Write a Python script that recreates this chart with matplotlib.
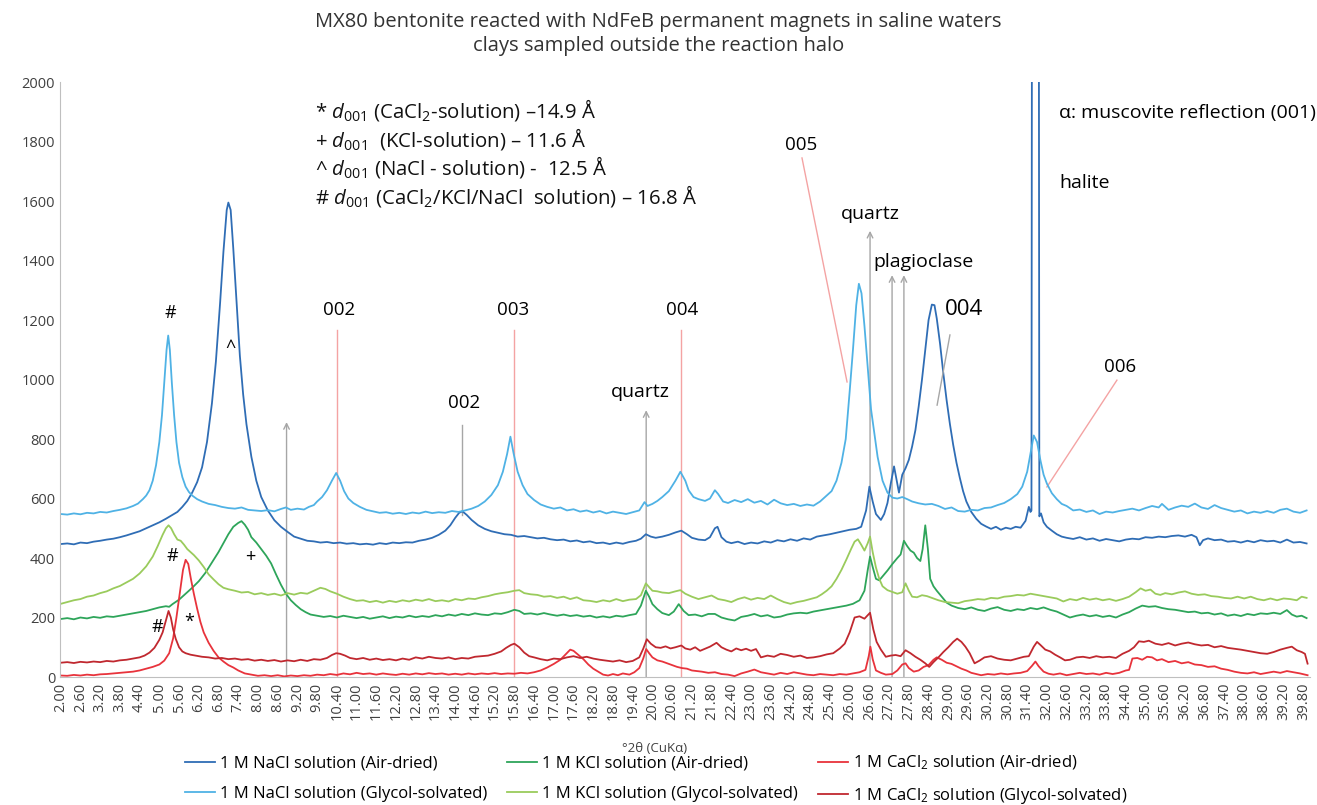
import matplotlib
matplotlib.use("Agg")
import matplotlib.pyplot as plt
import numpy as np

plt.rcParams['font.family'] = ['Open Sans', 'DejaVu Sans']
plt.rcParams['mathtext.fontset'] = 'custom'
plt.rcParams['mathtext.rm'] = 'Open Sans'
plt.rcParams['mathtext.it'] = 'Open Sans:italic'

# (2theta, counts), one list per sample
nacl_gly = [(2.0,548),(2.2,546),(2.4,550),(2.6,547),(2.8,552),(3.0,550),(3.2,555),(3.4,553),(3.6,558),(3.8,562),
    (4.0,567),(4.2,575),(4.35,583),(4.5,598),(4.6,610),(4.7,628),(4.8,660),(4.9,712),(5.0,790),(5.08,880),
    (5.15,990),(5.22,1100),(5.27,1148),(5.32,1100),(5.38,990),(5.45,880),(5.52,790),(5.6,720),(5.7,672),(5.8,640),
    (5.9,622),(6.0,610),(6.15,598),(6.3,590),(6.5,582),(6.7,578),(6.9,572),(7.1,568),(7.3,566),(7.5,570),
    (7.7,562),(7.9,560),(8.1,558),(8.3,561),(8.5,557),(8.7,565),(8.85,570),(9.0,562),(9.2,566),(9.4,563),
    (9.55,572),(9.7,578),(9.8,590),(9.95,605),(10.1,628),(10.25,660),(10.38,686),(10.5,660),(10.62,625),(10.75,600),
    (10.9,585),(11.1,572),(11.3,562),(11.5,557),(11.7,552),(11.9,554),(12.1,549),(12.3,552),(12.5,548),(12.7,553),
    (12.9,550),(13.1,556),(13.3,551),(13.5,554),(13.7,552),(13.9,558),(14.1,555),(14.3,560),(14.5,566),(14.7,575),
    (14.9,590),(15.1,612),(15.3,645),(15.45,690),(15.58,750),(15.68,808),(15.78,750),(15.9,690),(16.05,645),(16.2,615),
    (16.4,595),(16.6,580),(16.8,572),(17.0,566),(17.2,570),(17.4,560),(17.6,564),(17.8,556),(18.0,560),(18.2,553),
    (18.4,558),(18.6,550),(18.8,556),(19.0,552),(19.2,548),(19.4,554),(19.6,560),(19.76,588),(19.85,575),(20.0,582),
    (20.15,592),(20.3,605),(20.5,625),(20.7,660),(20.85,690),(21.0,660),(21.1,628),(21.25,605),(21.4,598),(21.6,592),
    (21.75,600),(21.9,628),(22.0,615),(22.15,590),(22.3,585),(22.5,595),(22.7,588),(22.9,598),(23.1,586),(23.3,592),
    (23.5,580),(23.7,596),(23.9,584),(24.1,578),(24.3,582),(24.5,575),(24.7,580),(24.9,576),(25.1,590),(25.3,610),
    (25.45,625),(25.6,660),(25.75,720),(25.88,800),(26.0,960),(26.1,1100),(26.2,1250),(26.28,1322),(26.36,1290),(26.45,1180),
    (26.55,1040),(26.65,900),(26.75,820),(26.85,740),(27.0,660),(27.15,620),(27.3,603),(27.45,600),(27.6,605),(27.75,598),
    (27.9,590),(28.1,584),(28.3,580),(28.5,582),(28.7,575),(28.9,565),(29.1,570),(29.3,558),(29.5,556),(29.7,562),
    (29.9,560),(30.1,568),(30.3,570),(30.5,578),(30.7,585),(30.9,598),(31.1,615),(31.25,640),(31.4,690),(31.5,750),
    (31.6,812),(31.7,790),(31.8,730),(31.9,680),(32.0,650),(32.15,618),(32.3,598),(32.45,582),(32.6,575),(32.8,560),
    (33.0,563),(33.2,555),(33.4,560),(33.6,548),(33.8,556),(34.0,553),(34.2,558),(34.4,562),(34.6,566),(34.8,560),
    (35.0,568),(35.2,575),(35.4,570),(35.5,582),(35.7,562),(35.9,570),(36.1,576),(36.3,572),(36.5,583),(36.7,570),
    (36.9,565),(37.1,578),(37.3,568),(37.5,562),(37.7,556),(37.9,560),(38.1,550),(38.3,556),(38.5,552),(38.7,558),
    (38.9,552),(39.1,562),(39.3,566),(39.5,556),(39.7,552),(39.9,560)]

nacl_air = [(2.0,447),(2.2,449),(2.4,446),(2.6,452),(2.8,450),(3.0,455),(3.2,458),(3.4,462),(3.6,465),(3.8,470),
    (4.0,476),(4.2,483),(4.4,490),(4.6,500),(4.8,510),(5.0,520),(5.2,532),(5.4,545),(5.55,555),(5.7,572),
    (5.85,592),(6.0,620),(6.15,655),(6.3,705),(6.45,790),(6.6,920),(6.72,1060),(6.85,1260),(6.95,1430),(7.05,1570),
    (7.1,1595),(7.17,1570),(7.25,1440),(7.35,1260),(7.45,1080),(7.55,950),(7.65,850),(7.8,740),(7.95,660),(8.1,605),
    (8.3,560),(8.5,527),(8.7,505),(8.9,488),(9.1,472),(9.3,465),(9.5,458),(9.7,456),(9.9,452),(10.1,454),
    (10.3,450),(10.5,452),(10.7,448),(10.9,450),(11.1,446),(11.3,448),(11.5,445),(11.7,450),(11.9,447),(12.1,452),
    (12.3,450),(12.5,453),(12.7,452),(12.9,458),(13.1,462),(13.3,468),(13.5,478),(13.7,492),(13.85,510),(14.0,535),
    (14.12,552),(14.22,557),(14.35,545),(14.5,528),(14.7,510),(14.9,498),(15.1,490),(15.3,485),(15.5,480),(15.7,478),
    (15.9,472),(16.1,474),(16.3,470),(16.5,466),(16.7,468),(16.9,463),(17.1,460),(17.3,462),(17.5,456),(17.7,459),
    (17.9,453),(18.1,456),(18.3,450),(18.5,452),(18.7,447),(18.9,452),(19.1,448),(19.3,454),(19.5,458),(19.65,465),
    (19.8,480),(19.95,472),(20.1,468),(20.3,472),(20.5,478),(20.7,486),(20.88,492),(21.05,480),(21.2,468),(21.4,462),
    (21.6,460),(21.75,470),(21.9,500),(21.98,505),(22.1,470),(22.25,455),(22.4,450),(22.6,455),(22.8,447),(23.0,452),
    (23.2,449),(23.4,456),(23.6,452),(23.8,460),(24.0,456),(24.2,463),(24.4,458),(24.6,466),(24.8,462),(25.0,472),
    (25.2,476),(25.4,480),(25.6,485),(25.8,490),(26.0,495),(26.2,498),(26.35,505),(26.5,560),(26.6,640),(26.7,590),
    (26.8,548),(26.95,528),(27.05,548),(27.15,585),(27.25,650),(27.35,708),(27.43,660),(27.5,620),(27.6,680),(27.7,702),
    (27.8,730),(27.9,775),(28.0,830),(28.1,910),(28.2,1000),(28.3,1100),(28.4,1200),(28.5,1252),(28.58,1250),(28.65,1205),
    (28.75,1120),(28.85,1020),(28.95,930),(29.05,850),(29.15,780),(29.25,720),(29.35,670),(29.45,625),(29.55,590),(29.7,555),
    (29.85,532),(30.0,515),(30.15,506),(30.3,498),(30.45,505),(30.6,495),(30.75,502),(30.9,498),(31.05,505),(31.2,502),
    (31.35,525),(31.45,572),(31.5,555),(31.53,560),(31.56,4000),(31.74,4000),(31.77,540),(31.82,550),(31.9,520),(32.0,505),
    (32.15,492),(32.3,480),(32.45,472),(32.6,468),(32.8,464),(33.0,470),(33.2,462),(33.4,466),(33.6,458),(33.8,464),
    (34.0,460),(34.2,456),(34.4,462),(34.6,465),(34.8,463),(35.0,470),(35.2,468),(35.4,472),(35.6,470),(35.8,474),
    (36.0,476),(36.2,472),(36.4,478),(36.55,470),(36.65,443),(36.75,460),(36.9,466),(37.1,460),(37.3,462),(37.5,455),
    (37.7,457),(37.9,452),(38.1,458),(38.3,453),(38.5,460),(38.7,456),(38.9,458),(39.1,452),(39.3,462),(39.5,452),
    (39.7,454),(39.9,449)]

kcl_gly = [(2.0,246),(2.2,252),(2.4,258),(2.6,262),(2.8,270),(3.0,274),(3.2,282),(3.4,288),(3.6,298),(3.8,306),
    (4.0,318),(4.2,330),(4.4,348),(4.6,372),(4.8,405),(4.95,440),(5.1,478),(5.2,500),(5.28,510),(5.36,500),
    (5.45,480),(5.55,462),(5.65,458),(5.75,445),(5.85,430),(5.95,420),(6.05,410),(6.2,392),(6.35,370),(6.5,345),
    (6.65,328),(6.8,312),(6.95,300),(7.1,295),(7.3,290),(7.5,284),(7.7,286),(7.9,278),(8.1,282),(8.3,276),
    (8.5,280),(8.7,274),(8.9,282),(9.1,277),(9.3,283),(9.5,280),(9.7,290),(9.9,300),(10.05,296),(10.2,288),
    (10.4,280),(10.6,270),(10.8,262),(11.0,256),(11.2,258),(11.4,252),(11.6,256),(11.8,250),(12.0,256),(12.2,252),
    (12.4,258),(12.6,254),(12.8,260),(13.0,256),(13.2,262),(13.4,255),(13.6,258),(13.8,254),(14.0,262),(14.2,258),
    (14.4,264),(14.6,262),(14.8,268),(15.0,272),(15.2,278),(15.4,282),(15.6,285),(15.8,290),(15.95,292),(16.1,282),
    (16.3,278),(16.5,276),(16.7,270),(16.9,272),(17.1,266),(17.3,270),(17.5,262),(17.7,268),(17.9,258),(18.1,256),
    (18.3,252),(18.5,258),(18.7,254),(18.9,262),(19.1,255),(19.3,260),(19.5,262),(19.65,275),(19.8,315),(19.9,302),
    (20.0,290),(20.15,288),(20.3,284),(20.5,282),(20.7,288),(20.85,292),(21.0,280),(21.2,270),(21.4,262),(21.6,268),
    (21.8,274),(22.0,262),(22.2,258),(22.4,252),(22.6,262),(22.8,268),(23.0,260),(23.2,266),(23.4,262),(23.6,274),
    (23.8,262),(24.0,252),(24.2,246),(24.4,252),(24.6,256),(24.8,262),(25.0,268),(25.15,278),(25.3,290),(25.45,305),
    (25.6,330),(25.75,360),(25.9,395),(26.05,432),(26.15,455),(26.25,463),(26.35,445),(26.45,425),(26.55,450),(26.62,472),
    (26.7,420),(26.8,368),(26.9,330),(27.0,305),(27.15,292),(27.3,286),(27.45,280),(27.6,285),(27.7,315),(27.8,290),
    (27.9,270),(28.05,268),(28.2,275),(28.35,272),(28.5,266),(28.7,258),(28.9,252),(29.1,250),(29.3,248),(29.5,255),
    (29.7,258),(29.9,262),(30.1,260),(30.3,266),(30.5,264),(30.7,270),(30.9,272),(31.1,276),(31.3,274),(31.5,280),
    (31.7,276),(31.9,272),(32.1,268),(32.3,264),(32.5,254),(32.7,262),(32.9,258),(33.1,266),(33.3,260),(33.5,264),
    (33.7,258),(33.9,262),(34.1,256),(34.3,262),(34.5,270),(34.7,285),(34.85,298),(35.0,290),(35.15,294),(35.3,280),
    (35.45,276),(35.6,282),(35.8,278),(36.0,284),(36.2,288),(36.4,280),(36.6,276),(36.8,278),(37.0,272),(37.2,270),
    (37.4,266),(37.6,264),(37.8,270),(38.0,264),(38.2,270),(38.4,262),(38.6,258),(38.8,264),(39.0,258),(39.2,264),
    (39.4,262),(39.6,258),(39.75,270),(39.9,266)]

kcl_air = [(2.0,195),(2.2,198),(2.4,194),(2.6,200),(2.8,197),(3.0,202),(3.2,199),(3.4,204),(3.6,202),(3.8,206),
    (4.0,210),(4.2,214),(4.4,218),(4.6,222),(4.8,228),(5.0,234),(5.2,238),(5.3,236),(5.4,245),(5.6,260),
    (5.8,280),(6.0,300),(6.2,322),(6.4,350),(6.6,385),(6.8,420),(6.95,450),(7.1,480),(7.25,505),(7.4,518),
    (7.5,524),(7.6,512),(7.7,495),(7.8,470),(7.95,452),(8.1,430),(8.25,408),(8.4,382),(8.55,345),(8.7,310),
    (8.85,280),(9.0,258),(9.15,242),(9.3,228),(9.45,218),(9.6,210),(9.8,206),(10.0,202),(10.2,205),(10.4,200),
    (10.6,206),(10.8,202),(11.0,198),(11.2,202),(11.4,196),(11.6,200),(11.8,204),(12.0,198),(12.2,203),(12.4,200),
    (12.6,206),(12.8,201),(13.0,205),(13.2,202),(13.4,208),(13.6,204),(13.8,210),(14.0,206),(14.2,212),(14.4,208),
    (14.6,214),(14.8,210),(15.0,208),(15.2,214),(15.4,212),(15.6,218),(15.8,226),(15.95,222),(16.1,212),(16.3,214),
    (16.5,210),(16.7,215),(16.9,210),(17.1,206),(17.3,210),(17.5,205),(17.7,208),(17.9,203),(18.1,206),(18.3,200),
    (18.5,204),(18.7,200),(18.9,206),(19.1,203),(19.3,208),(19.5,212),(19.65,240),(19.8,290),(19.9,270),(20.0,245),
    (20.15,228),(20.3,215),(20.5,208),(20.65,220),(20.8,245),(20.95,222),(21.1,208),(21.3,210),(21.5,204),(21.7,212),
    (21.9,212),(22.1,200),(22.3,194),(22.5,190),(22.7,202),(22.9,206),(23.1,212),(23.3,204),(23.5,208),(23.7,200),
    (23.9,203),(24.1,210),(24.3,214),(24.5,216),(24.7,214),(24.9,220),(25.1,224),(25.3,228),(25.5,232),(25.7,236),
    (25.9,240),(26.1,246),(26.3,258),(26.45,290),(26.55,360),(26.62,405),(26.7,370),(26.8,330),(26.9,325),(27.0,338),
    (27.15,358),(27.3,380),(27.45,400),(27.55,412),(27.65,458),(27.75,440),(27.85,425),(27.95,418),(28.05,400),(28.15,390),
    (28.22,430),(28.3,510),(28.38,430),(28.45,330),(28.55,305),(28.65,290),(28.8,270),(28.95,250),(29.1,240),(29.3,232),
    (29.5,228),(29.7,234),(29.9,226),(30.1,222),(30.3,230),(30.5,235),(30.7,226),(30.9,222),(31.1,228),(31.3,225),
    (31.5,232),(31.7,228),(31.9,234),(32.1,226),(32.3,220),(32.5,210),(32.7,200),(32.9,206),(33.1,210),(33.3,204),
    (33.5,208),(33.7,202),(33.9,206),(34.1,200),(34.3,210),(34.5,218),(34.7,230),(34.9,240),(35.1,236),(35.3,238),
    (35.5,232),(35.7,228),(35.9,226),(36.1,222),(36.3,218),(36.5,220),(36.7,214),(36.9,216),(37.1,210),(37.3,214),
    (37.5,206),(37.7,210),(37.9,205),(38.1,212),(38.3,208),(38.5,214),(38.7,212),(38.9,216),(39.1,212),(39.3,225),
    (39.45,210),(39.6,203),(39.75,206),(39.9,198)]

cacl_gly = [(2.0,48),(2.2,50),(2.4,47),(2.6,51),(2.8,49),(3.0,52),(3.2,50),(3.4,54),(3.6,52),(3.8,56),
    (4.0,58),(4.2,62),(4.4,66),(4.55,72),(4.7,82),(4.85,98),(5.0,125),(5.1,150),(5.2,190),(5.28,222),
    (5.35,200),(5.42,160),(5.5,128),(5.6,100),(5.7,86),(5.8,80),(5.95,75),(6.1,72),(6.3,68),(6.5,66),
    (6.7,62),(6.9,64),(7.1,60),(7.3,62),(7.5,58),(7.7,60),(7.9,55),(8.1,58),(8.3,54),(8.5,57),
    (8.7,52),(8.9,56),(9.1,53),(9.3,58),(9.5,54),(9.7,60),(9.9,58),(10.1,64),(10.25,74),(10.38,80),
    (10.5,78),(10.65,72),(10.8,64),(11.0,60),(11.2,64),(11.4,58),(11.6,62),(11.8,57),(12.0,60),(12.2,56),
    (12.4,62),(12.6,58),(12.8,66),(13.0,62),(13.2,68),(13.4,64),(13.6,62),(13.8,66),(14.0,60),(14.2,64),
    (14.4,62),(14.6,68),(14.8,70),(15.0,72),(15.2,78),(15.4,86),(15.55,98),(15.7,108),(15.8,112),(15.95,100),
    (16.1,82),(16.25,70),(16.4,66),(16.6,60),(16.8,56),(17.0,62),(17.2,60),(17.4,66),(17.6,70),(17.8,64),
    (18.0,68),(18.2,62),(18.4,58),(18.6,55),(18.8,52),(19.0,56),(19.2,50),(19.4,54),(19.6,66),(19.72,95),
    (19.83,127),(19.95,112),(20.1,100),(20.25,98),(20.4,103),(20.55,96),(20.7,100),(20.88,106),(21.0,96),(21.15,92),
    (21.3,100),(21.45,88),(21.6,95),(21.75,102),(21.95,115),(22.1,100),(22.25,92),(22.4,86),(22.55,96),(22.7,90),
    (22.85,95),(23.0,88),(23.15,94),(23.3,66),(23.5,72),(23.7,68),(23.9,78),(24.1,74),(24.3,68),(24.5,72),
    (24.7,64),(24.9,66),(25.1,70),(25.3,76),(25.5,80),(25.7,96),(25.85,112),(26.0,150),(26.15,200),(26.3,204),
    (26.45,196),(26.62,216),(26.72,160),(26.82,118),(26.95,92),(27.1,68),(27.25,72),(27.4,74),(27.55,70),(27.7,90),
    (27.85,80),(28.0,68),(28.15,58),(28.3,46),(28.42,34),(28.55,50),(28.7,66),(28.85,84),(29.0,100),(29.15,118),
    (29.27,129),(29.4,118),(29.52,102),(29.65,80),(29.8,46),(29.95,55),(30.1,66),(30.3,70),(30.5,62),(30.7,58),
    (30.9,56),(31.1,62),(31.3,68),(31.45,70),(31.6,102),(31.7,118),(31.8,108),(31.95,92),(32.1,86),(32.25,75),
    (32.4,66),(32.55,56),(32.7,58),(32.9,66),(33.1,68),(33.3,64),(33.5,70),(33.7,66),(33.9,68),(34.1,64),
    (34.3,78),(34.5,88),(34.65,100),(34.8,120),(34.95,118),(35.1,122),(35.3,112),(35.5,108),(35.7,114),(35.9,106),
    (36.1,112),(36.3,116),(36.5,110),(36.7,106),(36.9,108),(37.1,100),(37.3,104),(37.5,98),(37.7,95),(37.9,92),
    (38.1,88),(38.3,84),(38.5,80),(38.7,78),(38.9,84),(39.1,92),(39.3,98),(39.45,102),(39.6,90),(39.75,84),
    (39.85,78),(39.93,45)]

cacl_air = [(2.0,5),(2.2,4),(2.4,7),(2.6,5),(2.8,8),(3.0,6),(3.2,9),(3.4,10),(3.6,12),(3.8,14),
    (4.0,16),(4.2,18),(4.4,22),(4.6,28),(4.8,34),(5.0,42),(5.15,55),(5.3,80),(5.42,130),(5.52,200),
    (5.62,280),(5.72,360),(5.8,394),(5.88,380),(5.96,330),(6.05,280),(6.15,230),(6.25,185),(6.35,150),(6.5,115),
    (6.65,88),(6.8,66),(6.95,52),(7.1,40),(7.25,32),(7.4,22),(7.6,12),(7.8,8),(8.0,4),(8.2,6),
    (8.4,3),(8.6,6),(8.8,2),(9.0,5),(9.2,3),(9.4,6),(9.6,4),(9.8,8),(10.0,6),(10.2,10),
    (10.4,7),(10.6,12),(10.8,9),(11.0,14),(11.2,10),(11.4,12),(11.6,8),(11.8,12),(12.0,9),(12.2,7),
    (12.4,11),(12.6,8),(12.8,12),(13.0,9),(13.2,13),(13.4,10),(13.6,12),(13.8,8),(14.0,11),(14.2,8),
    (14.4,12),(14.6,9),(14.8,12),(15.0,10),(15.2,13),(15.4,10),(15.6,12),(15.8,11),(16.0,14),(16.2,12),
    (16.4,16),(16.6,22),(16.8,32),(17.0,44),(17.2,58),(17.35,75),(17.5,92),(17.6,88),(17.75,74),(17.9,60),
    (18.05,42),(18.2,28),(18.35,18),(18.5,8),(18.65,5),(18.8,10),(18.95,6),(19.1,12),(19.3,8),(19.45,16),
    (19.6,30),(19.72,62),(19.81,94),(19.9,80),(20.0,66),(20.15,56),(20.3,52),(20.45,46),(20.6,40),(20.75,34),
    (20.9,30),(21.05,28),(21.2,22),(21.35,20),(21.5,18),(21.7,14),(21.9,16),(22.1,10),(22.3,8),(22.5,3),
    (22.7,12),(22.9,18),(23.1,25),(23.3,16),(23.5,12),(23.7,8),(23.9,14),(24.1,10),(24.3,16),(24.5,12),
    (24.7,8),(24.9,6),(25.1,10),(25.3,8),(25.5,6),(25.7,10),(25.9,8),(26.1,12),(26.3,16),(26.48,24),
    (26.58,70),(26.63,102),(26.7,60),(26.8,22),(26.95,14),(27.1,8),(27.3,10),(27.45,22),(27.6,42),(27.7,46),
    (27.8,30),(27.95,18),(28.1,22),(28.25,34),(28.4,40),(28.55,58),(28.65,66),(28.8,58),(28.95,48),(29.1,44),
    (29.25,36),(29.4,28),(29.55,22),(29.7,14),(29.85,10),(30.0,6),(30.2,10),(30.4,8),(30.6,12),(30.8,9),
    (31.0,12),(31.2,14),(31.4,20),(31.55,38),(31.65,52),(31.75,36),(31.9,18),(32.05,11),(32.2,8),(32.4,12),
    (32.6,6),(32.8,10),(33.0,14),(33.2,10),(33.4,12),(33.6,8),(33.8,14),(34.0,10),(34.2,14),(34.4,22),
    (34.5,24),(34.6,62),(34.75,64),(34.9,58),(35.05,68),(35.2,66),(35.35,56),(35.5,60),(35.7,50),(35.9,54),
    (36.1,46),(36.3,50),(36.5,42),(36.7,40),(36.9,34),(37.1,36),(37.3,28),(37.5,24),(37.7,18),(37.9,14),
    (38.1,12),(38.3,16),(38.5,10),(38.7,14),(38.9,18),(39.1,14),(39.3,20),(39.5,16),(39.7,12),(39.93,6)]

x_ticks = np.round(np.arange(2.0, 39.81, 0.6), 2)

# legend order chosen so that ncol=3 fills row 1 = air-dried, row 2 = glycol
series = [
    (nacl_air, '#2F6DB5', '1 M NaCl solution (Air-dried)'),
    (nacl_gly, '#4FB2E5', '1 M NaCl solution (Glycol-solvated)'),
    (kcl_air, '#2EA55A', '1 M KCl solution (Air-dried)'),
    (kcl_gly, '#9ACB5C', '1 M KCl solution (Glycol-solvated)'),
    (cacl_air, '#E8333C', '1 M CaCl$_2$ solution (Air-dried)'),
    (cacl_gly, '#C0282F', '1 M CaCl$_2$ solution (Glycol-solvated)'),
]

fig = plt.figure(figsize=(13.17, 8.05), dpi=100)
ax = fig.add_axes([0.0456, 0.159, 0.949, 0.739])

grey = '#A6A6A6'
pink = '#F4A3A3'

# marker lines behind the data
for xv in [10.4, 15.8, 20.88]:
    ax.plot([xv, xv], [0, 1166], color=pink, lw=1, zorder=1)
ax.plot([14.22, 14.22], [545, 847], color=grey, lw=1, zorder=1)
for xv, ytop in [(8.87, 857), (19.81, 897), (26.62, 1500), (27.29, 1351), (27.65, 1351)]:
    ax.annotate('', xy=(xv, ytop), xytext=(xv, 0),
                arrowprops=dict(arrowstyle='->', color=grey, lw=1, shrinkA=0, shrinkB=0), zorder=1)
ax.plot([24.55, 25.92], [1745, 992], color=pink, lw=1, zorder=1)
ax.plot([34.13, 32.0], [998, 639], color=pink, lw=1, zorder=1)
ax.plot([29.05, 28.66], [1150, 914], color=grey, lw=1, zorder=3)

for pts, c, lab in series:
    xs, ys = zip(*pts)
    ax.plot(xs, ys, color=c, lw=1.3, label=lab, zorder=2)

ax.set_xlim(1.98, 40.0)
ax.set_ylim(0, 2000)
ax.set_yticks(range(0, 2001, 200))
ax.set_xticks(x_ticks)
ax.set_xticklabels([f'{v:.2f}' for v in x_ticks], rotation=90, fontsize=10.5, color='#404040')
ax.tick_params(axis='y', length=0, labelsize=10.5, colors='#404040')
ax.tick_params(axis='x', length=0, pad=4)
for s in ['top', 'right']:
    ax.spines[s].set_visible(False)
for s in ['left', 'bottom']:
    ax.spines[s].set_color('#BFBFBF')

fig.text(0.497, 1 - 748 / 805, '°2θ (CuKα)', ha='center', va='center', fontsize=9.5, color='#404040')
fig.text(0.5, 1 - 22 / 805, 'MX80 bentonite reacted with NdFeB permanent magnets in saline waters',
         ha='center', va='center', fontsize=14.5, color='#333333')
fig.text(0.5, 1 - 46 / 805, 'clays sampled outside the reaction halo',
         ha='center', va='center', fontsize=14.5, color='#333333')

# d-spacing notes
notes = [r'* $d_{001}$ (CaCl$_2$-solution) –14.9 Å',
         r'+ $d_{001}$  (KCl-solution) – 11.6 Å',
         r'^ $d_{001}$ (NaCl - solution) -  12.5 Å',
         r'# $d_{001}$ (CaCl$_2$/KCl/NaCl  solution) – 16.8 Å']
for i, t in enumerate(notes):
    ax.text(9.75, 1906 - i * 96, t, fontsize=14.7, va='center', ha='left', color='#111111')

ax.text(32.36, 1896, 'α: muscovite reflection (001)', fontsize=14, va='center', ha='left')
ax.text(32.39, 1660, 'halite', fontsize=14, va='center', ha='left')
ax.text(24.52, 1788, '005', fontsize=13.5, va='center', ha='center')
ax.text(26.62, 1556, 'quartz', fontsize=14, va='center', ha='center')
ax.text(28.25, 1395, 'plagioclase', fontsize=14, va='center', ha='center')
ax.text(29.48, 1234, '004', fontsize=16, va='center', ha='center')
ax.text(34.22, 1042, '006', fontsize=13.5, va='center', ha='center')
ax.text(10.48, 1234, '002', fontsize=13.5, va='center', ha='center')
ax.text(15.77, 1234, '003', fontsize=13.5, va='center', ha='center')
ax.text(20.9, 1234, '004', fontsize=13.5, va='center', ha='center')
ax.text(14.28, 921, '002', fontsize=13.5, va='center', ha='center')
ax.text(19.63, 958, 'quartz', fontsize=14, va='center', ha='center')
ax.text(5.34, 1223, '#', fontsize=13, va='center', ha='center')
ax.text(7.17, 1105, '^', fontsize=13, va='center', ha='center')
ax.text(5.40, 407, '#', fontsize=13, va='center', ha='center')
ax.text(7.78, 403, '+', fontsize=13, va='center', ha='center')
ax.text(4.95, 168, '#', fontsize=13, va='center', ha='center')
ax.text(5.92, 185, '*', fontsize=13, va='center', ha='center')

fig.legend(*ax.get_legend_handles_labels(), loc='upper center', bbox_to_anchor=(0.498, 1 - 742 / 805),
           ncol=3, frameon=False, fontsize=12, handlelength=1.8, handletextpad=0.3,
           columnspacing=1.2, labelspacing=0.85, borderpad=0.2)

fig.savefig('out.png', dpi=100)
